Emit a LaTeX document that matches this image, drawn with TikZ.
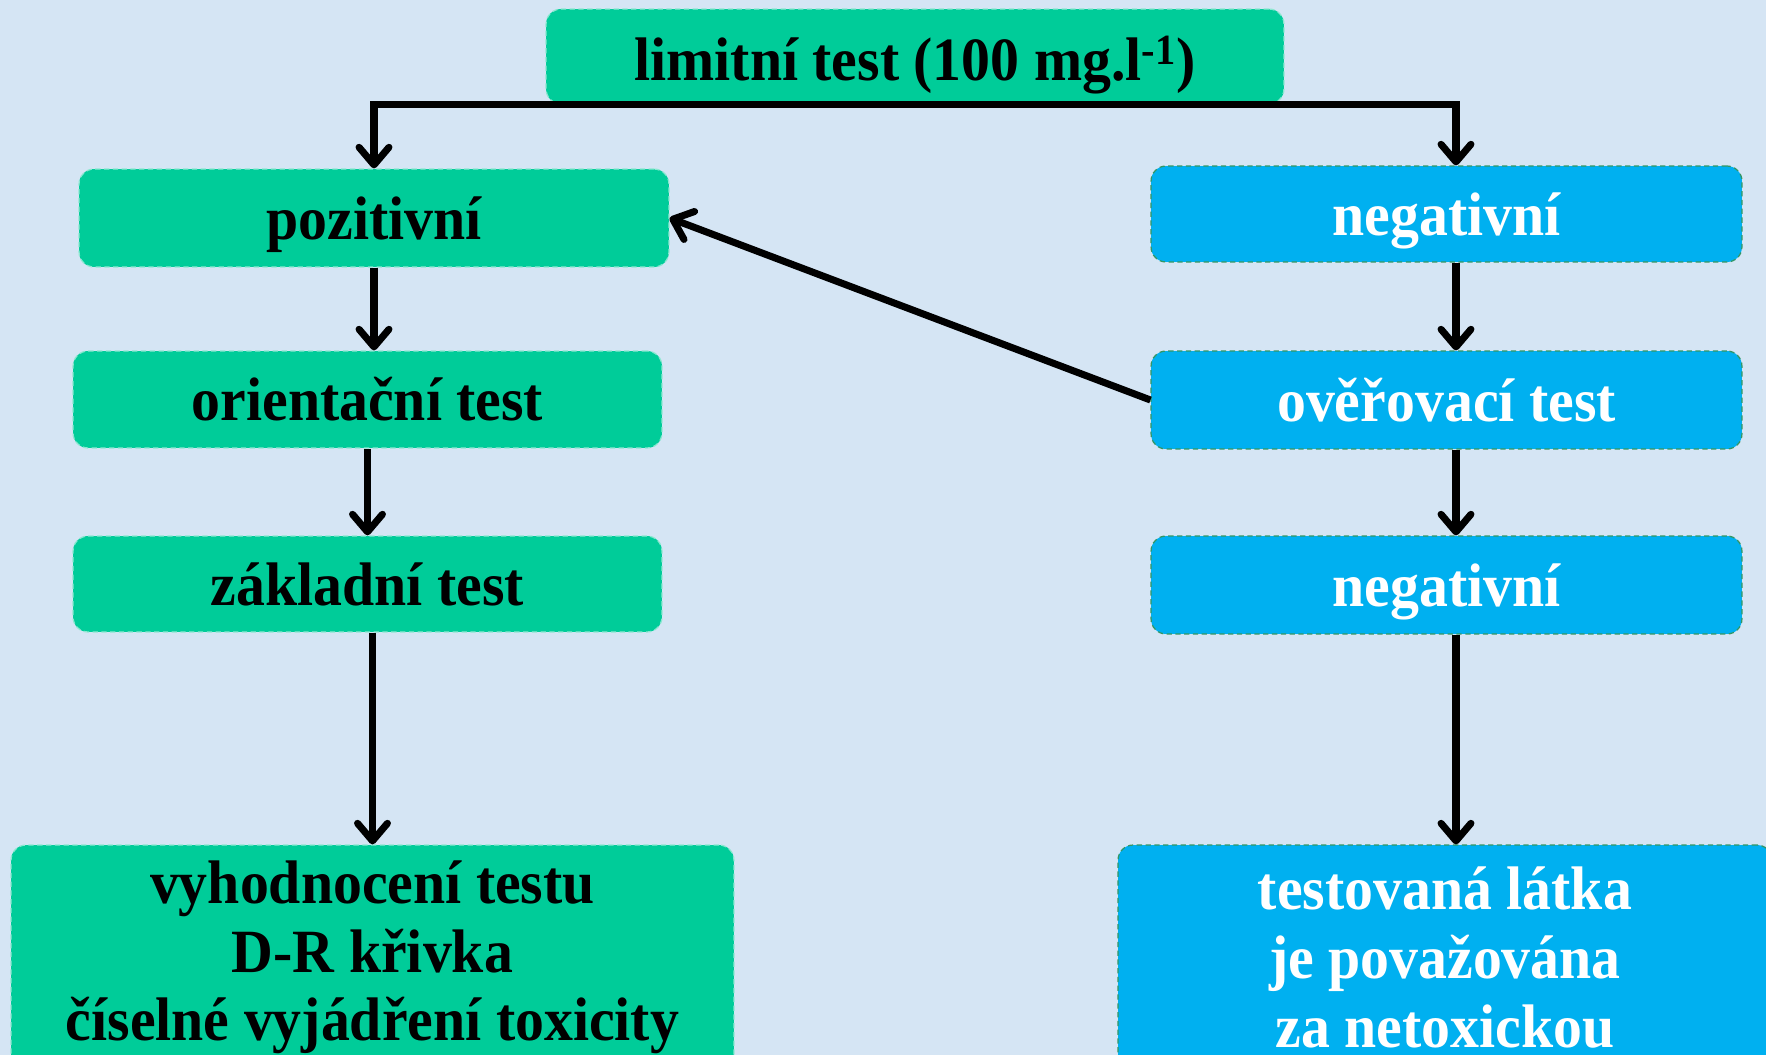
\documentclass[tikz,border=0pt]{standalone}
\usepackage{fontspec}
\setmainfont{Liberation Serif}[FakeStretch=0.94]
\usepackage{tikz}
\usetikzlibrary{arrows.meta}
\definecolor{bgblue}{RGB}{213,229,244}
\definecolor{boxgreen}{RGB}{0,204,153}
\definecolor{boxblue}{RGB}{0,176,240}
\definecolor{edgegreen}{RGB}{52,150,100}

\begin{document}
\begin{tikzpicture}[x = 0.02cm, y = -0.02cm,
  box/.style = {shape = rectangle, rounded corners = 0.3cm, densely dashed, line width = 0.7pt, align = center, inner sep = 0pt, font = \fontsize{35}{39}\selectfont\bfseries},
  oneline/.style = {text height = 24pt, text depth = 0pt},
  greenbox/.style = {box, draw = white!55!boxgreen, fill = boxgreen, text = black},
  bluebox/.style = {box, draw = edgegreen, fill = boxblue, text = white},
  link/.style = {draw = black, solid, line width = 4pt, -{Straight Barb[length = 10pt, width = 17pt, round]}}]
\clip (0,0) rectangle (1766,1055);
\fill[bgblue] (0,0) rectangle (1766,1055);
\node[greenbox, oneline, text height = 27pt, minimum width = 14.76cm, minimum height = 1.9cm] (1) at (915,56.5) {limitní test (100 mg.l\textsuperscript{-1})};
\node[greenbox, oneline, minimum width = 11.8cm, minimum height = 1.96cm] (2) at (374,218) {pozitivní};
\node[bluebox, oneline, minimum width = 11.82cm, minimum height = 1.92cm] (3) at (1446.5,214) {negativní};
\node[greenbox, oneline, minimum width = 11.78cm, minimum height = 1.94cm] (4) at (367.5,399.5) {orientační test};
\node[bluebox, oneline, minimum width = 11.82cm, minimum height = 1.96cm] (5) at (1446.5,400) {ověřovací test};
\node[greenbox, oneline, minimum width = 11.78cm, minimum height = 1.92cm] (6) at (367.5,584) {základní test};
\node[bluebox, oneline, minimum width = 11.82cm, minimum height = 1.96cm] (7) at (1446.5,585) {negativní};
\node[greenbox, minimum width = 14.46cm, minimum height = 4.5cm] (8) at (372.5,957.5) {vyhodnocení testu\\D-R křivka\\číselné vyjádření toxicity};
\node[bluebox, minimum width = 13.08cm, minimum height = 4.5cm] (9) at (1445,957.5) {testovaná látka\\je považována\\za netoxickou};
\draw[link] (1.south) -| (2.north);
\draw[link] (1.south) -| ([xshift = 0.19cm]3.north);
\draw[link] (2.south) -- (2.south |- 4.north);
\draw[link] (4) -- (6);
\draw[link] (8.north |- 6.south) -- (8.north);
\draw[link] ([xshift = 0.19cm]3.south) -- ([xshift = 0.19cm]5.north);
\draw[link] ([xshift = 0.19cm]5.south) -- ([xshift = 0.19cm]7.north);
\draw[link] ([xshift = 0.19cm]7.south) -- ([xshift = 0.19cm]7.south |- 9.north);
\draw[link] (5.west) -- (2.east);
\end{tikzpicture}
\end{document}
